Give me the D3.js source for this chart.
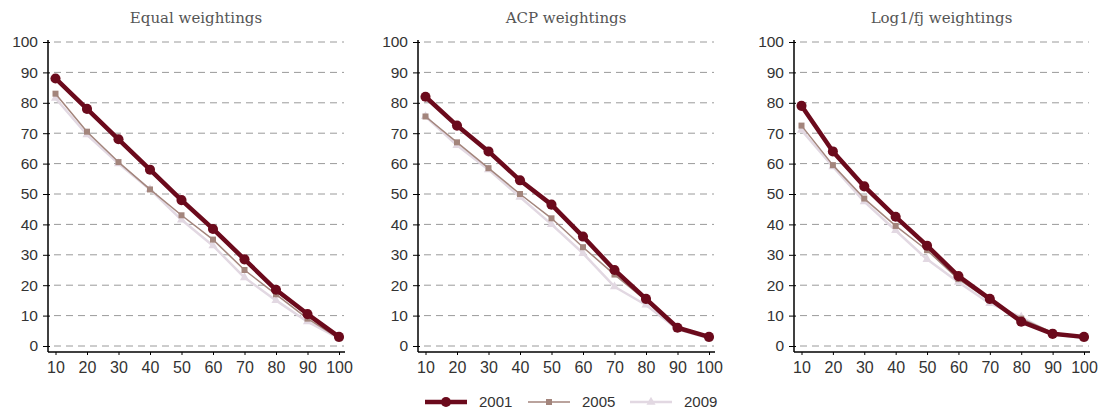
<!DOCTYPE html>
<html>
<head>
<meta charset="utf-8">
<script src="https://cdn.jsdelivr.net/npm/d3@7"></script>
<style>
  body { margin: 0; background: #fff; }
</style>
</head>
<body>
<div class="container"></div>
<script>
// ---------- DATA ----------
var deciles = [10, 20, 30, 40, 50, 60, 70, 80, 90, 100]
var yTicks = [0, 10, 20, 30, 40, 50, 60, 70, 80, 90, 100]
var years = ["2001", "2005", "2009"]
var panelTitles = ["Equal weightings", "ACP weightings", "Log1/fj weightings"]

var equal2001 = [88, 78, 68, 58, 48, 38.5, 28.5, 18.5, 10.5, 3]
var equal2005 = [83, 70.5, 60.5, 51.5, 43, 35, 25, 17, 9, 2.5]
var equal2009 = [81.5, 69.5, 60, 51.5, 41.5, 33, 22.5, 15, 8, 2.5]

var acp2001 = [82, 72.5, 64, 54.5, 46.5, 36, 25, 15.5, 6, 3]
var acp2005 = [75.5, 67, 58.5, 50, 42, 32.5, 23.5, 15, 6, 2.5]
var acp2009 = [75.5, 66, 58, 49, 40, 30.5, 19.5, 13.5, 5.5, 2.5]

var log2001 = [79, 64, 52.5, 42.5, 33, 23, 15.5, 8, 4, 3]
var log2005 = [72.5, 59.5, 48.5, 39.5, 31.5, 22, 15, 9, 4.5, 2.5]
var log2009 = [71, 59, 47.5, 38, 28.5, 21, 14, 9.5, 4, 2.5]

var panelSeries = [
  [equal2001, equal2005, equal2009],
  [acp2001, acp2005, acp2009],
  [log2001, log2005, log2009]
]

// styles per year
var colors = ["#6b0a1c", "#a3857c", "#e2d8e2"]
var widths = [4.5, 1.5, 2.5]

var width = 1106, height = 411
var sans = "'Liberation Sans', Arial, sans-serif"
var narrow = "'Liberation Sans Narrow', 'Arial Narrow', 'Liberation Sans', sans-serif"

var svg = d3.select(".container").append("svg")
    .attr("width", width)
    .attr("height", height)

// left edge of y axis for each panel, and right edge of grid
var panels = [
  { axis: 48, right: 344 },
  { axis: 418, right: 714 },
  { axis: 794, right: 1089 }
]

var y = d3.scaleLinear().domain([0, 100]).range([346, 42])

var symbols = [d3.symbolCircle, d3.symbolSquare, d3.symbolTriangle]
var symSizes = [80, 36, 36]

panels.forEach(function(p, i) {
  var g = svg.append("g")

  var x = d3.scaleLinear().domain([10, 100]).range([p.axis + 7.5, p.right - 5])

  // title
  g.append("text")
    .attr("x", (p.axis + p.right) / 2)
    .attr("y", 23)
    .attr("text-anchor", "middle")
    .style("font-family", "'DejaVu Serif', serif")
    .style("font-size", "15px")
    .style("fill", "#555")
    .text(panelTitles[i])

  // grid
  g.append("g")
    .selectAll("line")
    .data(yTicks)
    .enter().append("line")
    .attr("x1", p.axis + 6)
    .attr("x2", p.right)
    .attr("y1", function(d) { return y(d) })
    .attr("y2", function(d) { return y(d) })
    .attr("stroke", "#9a9a9a")
    .attr("stroke-dasharray", "7,5")

  // y axis
  var yAxis = g.append("g")
    .attr("transform", "translate(" + p.axis + ",0)")
    .call(d3.axisLeft(y).tickValues(yTicks).tickSize(5).tickPadding(5))
  yAxis.select(".domain").attr("d", "M0,40V352").attr("stroke", "#000").attr("stroke-width", 1.5)
  yAxis.selectAll(".tick line").attr("stroke", "#000").attr("x2", -5).attr("x1", 2)
  yAxis.selectAll(".tick text")
    .style("font-family", sans).style("font-size", "15.5px").style("fill", "#333")

  // x axis
  var xAxis = g.append("g")
    .attr("transform", "translate(0,352)")
    .call(d3.axisBottom(x).tickValues(deciles).tickSize(3).tickPadding(7))
  xAxis.select(".domain").attr("d", "M" + p.axis + ",0H" + (p.right + 1)).attr("stroke", "#000").attr("stroke-width", 1.5)
  xAxis.selectAll(".tick line").attr("stroke", "#000")
  xAxis.selectAll(".tick text")
    .style("font-family", narrow).style("font-size", "16px").style("fill", "#333")

  var line = d3.line()
    .x(function(d, j) { return x(deciles[j]) })
    .y(function(d) { return y(d) })

  // draw 2009 first, 2001 on top
  ;[2, 1, 0].forEach(function(k) {
    var vals = panelSeries[i][k]
    g.append("path")
      .datum(vals)
      .attr("fill", "none")
      .attr("stroke", colors[k])
      .attr("stroke-width", widths[k])
      .attr("stroke-linejoin", "round")
      .attr("d", line)

    g.selectAll(".pt" + k)
      .data(vals)
      .enter().append("path")
      .attr("class", "pt" + k)
      .attr("fill", colors[k])
      .attr("transform", function(d, j) { return "translate(" + x(deciles[j]) + "," + y(d) + ")" })
      .attr("d", d3.symbol().type(symbols[k]).size(symSizes[k]))
  })
})

// ---------- LEGEND ----------
var legend = svg.append("g")
var legendX = [425, 528, 630]
years.forEach(function(yr, k) {
  var lx = legendX[k]
  legend.append("line")
    .attr("x1", lx).attr("x2", lx + 42)
    .attr("y1", 402).attr("y2", 402)
    .attr("stroke", colors[k])
    .attr("stroke-width", widths[k])
  legend.append("path")
    .attr("transform", "translate(" + (lx + 21) + ",402)")
    .attr("fill", colors[k])
    .attr("d", d3.symbol().type(symbols[k]).size(symSizes[k]))
  legend.append("text")
    .attr("x", lx + 54)
    .attr("y", 402)
    .attr("dy", "0.35em")
    .style("font-family", sans)
    .style("font-size", "15px")
    .style("fill", "#333")
    .text(yr)
})
</script>
</body>
</html>
